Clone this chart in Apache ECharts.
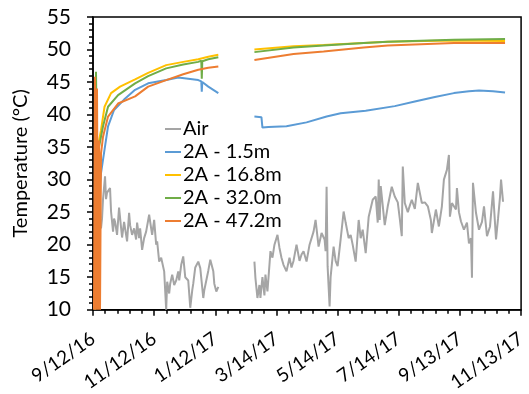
<!DOCTYPE html>
<html>
<head>
<meta charset="utf-8">
<script src="https://cdn.jsdelivr.net/npm/echarts@6/dist/echarts.min.js"></script>
<style>
  html, body { margin: 0; padding: 0; background: #fff; }
  #chart { width: 529px; height: 394px; }
</style>
</head>
<body>
<div id="chart"></div>
<script>
// x values are days after 9/12/16
const xTickLabels = ['9/12/16', '11/12/16', '1/12/17', '3/14/17', '5/14/17', '7/14/17', '9/13/17', '11/13/17'];
const xTickStep = 61;
const seriesNames = ['Air', '2A - 1.5m', '2A - 16.8m', '2A - 32.0m', '2A - 47.2m'];
const seriesColors = ['#A5A5A5', '#5B9BD5', '#FFC000', '#70AD47', '#ED7D31'];

const airDays = [
  4, 5, 6, 8, 9, 10, 12, 13, 14, 17, 18, 20, 21, 22, 24, 26, 28, 29, 31, 32, 34, 36, 37, 39, 41, 43, 44, 46, 47, 49,
  51, 53, 56, 58, 59, 61, 63, 64, 66, 68, 71, 73, 74, 76, 77, 79, 81, 83, 85, 86, 88, 90, 92, 95, 97,
  99, 100, 102, 105, 107, 110, 111, 113, 115, 117, 120, 121, 123, 125,
  143,
  161, 162, 164, 166, 167, 169, 171, 172, 174, 176, 177, 179, 181, 184, 186, 188, 190, 193, 196, 198, 200, 203, 206,
  208, 210, 213, 216, 220, 222, 225, 228, 231, 232, 233, 234, 236, 237, 240, 242, 244, 247, 250, 252, 255,
  257, 259, 262, 265, 267, 269, 272, 275, 279, 282, 284, 285, 286, 287, 291, 294, 298, 301, 304, 306, 308, 309, 311,
  314, 316, 318, 321, 324, 328, 331, 334, 337, 338, 342, 345, 348, 350, 353, 355, 356, 358, 362, 363, 365, 367,
  370, 373, 375, 377, 378, 379, 382, 385, 388, 390, 393, 396, 399, 402, 404, 406, 407, 409
];
const airTemps = [
  23.5, 22.5, 25, 22.5, 24, 27, 30.5, 27, 28, 28.7, 25.1, 22, 24, 23.5, 21.5, 25.7, 22.6, 21.1, 23.5, 22.5, 20.5, 24.9, 23, 21.5, 22.5, 20.8, 23.4, 21, 22.5, 19.2,
  21, 22, 24.6, 22.5, 21.5, 23.8, 20, 20.5, 17.4, 18, 15.9, 10, 14.3, 12.5, 14, 15.4, 13.8, 14.5, 15.9, 14.5, 16.9, 18.2, 15, 14.5, 10.3,
  13, 14, 16.5, 17.4, 16.4, 11.8, 13, 14.5, 16, 17.7, 15.9, 14, 12.8, 13.5,
  '-',
  17.4, 14.9, 11.8, 13.8, 11.8, 15, 12.2, 15.4, 12.8, 16.9, 19, 18, 20, 21.5, 19.5, 18, 16.9, 15.9, 18, 16.5, 17.5, 20, 17.5,
  18.5, 19, 17.4, 20, 22, 23.8, 19.7, 21.8, 20.8, 19, 28.9, 16.7, 10.5, 15, 19.7, 17.5, 16.7, 20.8, 25.1, 23.4, 21,
  21.5, 20, 17.4, 23.8, 21, 22.3, 18.7, 24.3, 26.9, 27.4, 23.4, 30, 23.8, 29, 23, 25.9, 28.9, 27.4, 26.5, 24, 21.3, 32, 26.4,
  25, 26, 26.9, 25.5, 29.5, 26.4, 26.5, 25.9, 23.8, 21.8, 25.4, 22.8, 25.9, 30, 31.5, 33.8, 24.3, 26.4, 25.4, 28.7, 25, 23.6,
  22.3, 23.4, 20.2, 21, 14.9, 29.5, 24.9, 22.3, 23.5, 25.9, 21.3, 22.8, 28.2, 20.8, 24, 27.4, 30, 26.6
];

const shallowDays = [6, 8, 11.5, 15, 21, 31, 42, 55, 73, 85, 105, 108, 108.5, 109, 115, 125, 143,
  161, 168, 169, 175, 193, 213, 233, 247, 272, 301, 321, 341, 360, 375, 385, 399, 411];
const shallowTemps = [28, 31, 34.6, 38.2, 40.7, 42.3, 43.8, 44.8, 45.3, 45.7, 45.3, 45.1, 43.5, 45, 44.3, 43.3, '-',
  39.7, 39.6, 38, 38.1, 38.2, 38.8, 39.7, 40.2, 40.6, 41.3, 42, 42.7, 43.3, 43.6, 43.7, 43.6, 43.4];

const midDays = [2, 3, 4, 6, 8, 11.5, 18, 27, 42, 55, 73, 90, 105, 115, 125, 143,
  161, 200, 230, 270, 294, 330, 360, 411];
const midTemps = [12, 42, 34, 36, 37.6, 41.2, 43.3, 44.3, 45.4, 46.4, 47.6, 48.1, 48.5, 48.9, 49.2, '-',
  50, 50.5, 50.7, 51, 51.2, 51.3, 51.4, 51.3];

const deepDays = [2, 3, 4, 6, 10, 15, 25, 42, 55, 73, 90, 105, 108, 108.5, 109, 115, 125, 143,
  161, 200, 230, 270, 294, 360, 411];
const deepTemps = [10, 46.6, 33, 35, 38.2, 41.2, 43, 44.8, 45.9, 47.1, 47.7, 48.1, 48.3, 45.5, 48.2, 48.5, 48.8, '-',
  49.6, 50.3, 50.6, 51, 51.2, 51.5, 51.6];

const deepestDays = [1, 2, 3, 4, 5, 6, 7, 8, 10, 15, 25, 42, 55, 73, 90, 105, 115, 125, 143,
  161, 200, 230, 270, 294, 360, 411];
const deepestTemps = [10, 45.8, 10, 44, 10, 36, 10, 34, 36.6, 39.7, 41.7, 42.8, 44.3, 45.3, 46.2, 46.9, 47.2, 47.4, '-',
  48.4, 49.3, 49.7, 50.3, 50.6, 51, 51];

const seriesDays = [airDays, shallowDays, midDays, deepDays, deepestDays];
const seriesTemps = [airTemps, shallowTemps, midTemps, deepTemps, deepestTemps];

const font = 'Lato, "Open Sans", sans-serif';
const chart = echarts.init(document.getElementById('chart'));

chart.setOption({
  animation: false,
  textStyle: { fontFamily: font },
  grid: {
    left: 93, right: 1, top: 17, bottom: 84,
    show: true, borderColor: '#000', borderWidth: 1.5, backgroundColor: 'transparent'
  },
  legend: {
    orient: 'vertical',
    left: 160,
    top: 114,
    itemGap: 3,
    itemWidth: 16,
    itemHeight: 2,
    icon: 'rect',
    data: seriesNames,
    textStyle: { fontSize: 20, color: '#000', fontFamily: font, padding: [0, 0, 0, -3] }
  },
  xAxis: {
    type: 'value',
    min: 0,
    max: xTickStep * (xTickLabels.length - 1),
    interval: xTickStep,
    axisLine: { lineStyle: { color: '#000', width: 1.5 } },
    axisTick: { show: true, length: 6, lineStyle: { color: '#000', width: 1.5 } },
    minorTick: { show: true, splitNumber: 5, length: 4, lineStyle: { color: '#000', width: 1.5 } },
    splitLine: { show: false },
    axisLabel: {
      rotate: 35,
      margin: 27,
      fontSize: 19,
      color: '#000',
      fontFamily: font,
      formatter: (v) => xTickLabels[Math.round(v / xTickStep)] || ''
    }
  },
  yAxis: {
    type: 'value',
    min: 10,
    max: 55,
    interval: 5,
    name: 'Temperature (°C)',
    nameLocation: 'middle',
    nameGap: 62,
    nameTextStyle: { fontSize: 20, color: '#000', fontFamily: font },
    axisLine: { show: true, lineStyle: { color: '#000', width: 1.5 } },
    axisTick: { show: true, length: 6, lineStyle: { color: '#000', width: 1.5 } },
    minorTick: { show: true, splitNumber: 5, length: 4, lineStyle: { color: '#000', width: 1.5 } },
    splitLine: { show: false },
    axisLabel: { fontSize: 21, color: '#000', margin: 22, fontFamily: font }
  },
  series: seriesNames.map((name, i) => ({
    name: name,
    type: 'line',
    data: seriesDays[i].map((d, j) => [d, seriesTemps[i][j]]),
    connectNulls: false,
    showSymbol: false,
    symbol: 'rect',
    color: seriesColors[i],
    lineStyle: { color: seriesColors[i], width: 2 },
    clip: true,
    z: 2 + i
  }))
});
</script>
</body>
</html>
